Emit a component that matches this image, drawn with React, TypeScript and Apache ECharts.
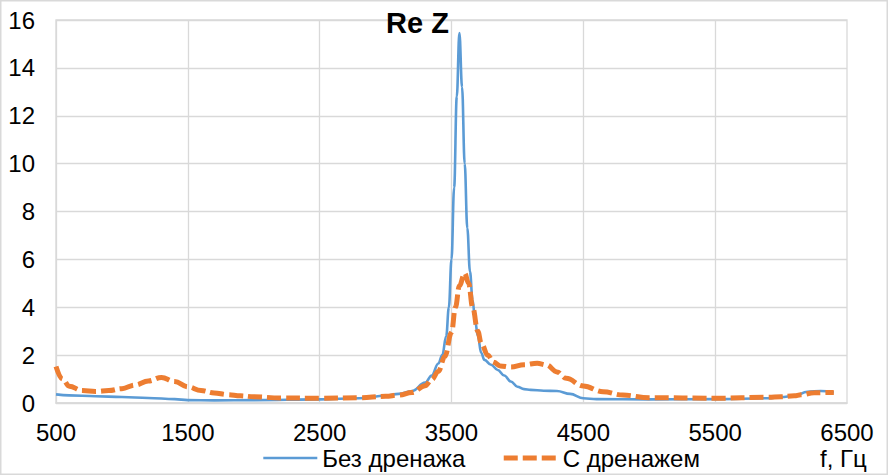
import React, { useEffect, useRef } from "react";
import * as echarts from "echarts";

const xTicks = [500, 1500, 2500, 3500, 4500, 5500, 6500];
const yTicks = [0, 2, 4, 6, 8, 10, 12, 14, 16];

const legendNames = ["Без дренажа", "С дренажем"];
const chartTitle = "Re Z";
const xAxisTitle = "f, Гц";

const freqNoDrain = [
  500, 600, 800, 1000, 1200, 1400, 1500, 1700, 2000, 2500, 2800, 3000, 3100, 3200,
  3300, 3350, 3400, 3430, 3460, 3480, 3500, 3520, 3540, 3560, 3580, 3600, 3620,
  3640, 3660, 3680, 3700, 3725, 3750, 3800, 3850, 3900, 3950, 4000, 4050, 4100,
  4200, 4300, 4400, 4500, 4600, 5000, 5500, 5900, 6000, 6100, 6200, 6300, 6400,
];
const valNoDrain = [
  0.36, 0.32, 0.28, 0.25, 0.21, 0.16, 0.12, 0.11, 0.12, 0.15, 0.2, 0.3, 0.38, 0.5,
  0.85, 1.15, 1.65, 2.0, 2.8, 4.0, 6.0, 9.0, 12.8, 15.45, 13.2, 10.0, 7.3,
  5.5, 4.3, 3.4, 2.8, 2.1, 1.8, 1.6, 1.38, 1.15, 0.9, 0.68, 0.58, 0.55,
  0.51, 0.5, 0.38, 0.2, 0.16, 0.15, 0.16, 0.2, 0.25, 0.3, 0.47, 0.5, 0.44,
];

const freqDrain = [
  500, 550, 600, 700, 800, 900, 1000, 1100, 1200, 1300, 1400, 1500, 1600, 1700,
  1800, 1900, 2000, 2200, 2500, 2800, 3000, 3100, 3200, 3300, 3350, 3400, 3450,
  3500, 3530, 3560, 3600, 3630, 3660, 3700, 3725, 3775, 3820, 3870, 3950, 4050,
  4150, 4220, 4300, 4370, 4500, 4650, 4800, 5000, 5500, 5900, 6000, 6100, 6150,
  6250, 6400,
];
const valDrain = [
  1.52, 1.0, 0.7, 0.52, 0.48, 0.52, 0.6, 0.75, 0.92, 1.07, 0.9, 0.68, 0.52, 0.42,
  0.35, 0.3, 0.26, 0.21, 0.2, 0.22, 0.28, 0.33, 0.44, 0.72, 0.98, 1.32, 1.95,
  2.95, 4.0, 4.9, 5.42, 5.0, 4.0, 3.0, 2.5, 2.0, 1.7, 1.55, 1.5, 1.6,
  1.66, 1.59, 1.3, 1.03, 0.71, 0.47, 0.33, 0.22, 0.2, 0.24, 0.26, 0.3, 0.34,
  0.43, 0.44,
];

const FONT = "Liberation Sans, Arial, sans-serif";
const BLUE = "#5B9BD5";
const ORANGE = "#ED7D31";
const FS = 24;

export default function App() {
  const ref = useRef<HTMLDivElement>(null);
  useEffect(() => {
    document.body.style.margin = "0";
    const chart = echarts.init(ref.current!, null, { renderer: "svg" });
    const noDrain = freqNoDrain.map((f, i) => [f, valNoDrain[i]]);
    const drain = freqDrain.map((f, i) => [f, valDrain[i]]);
    const blueLine = { color: BLUE, width: 2.6, type: "solid" };
    const orangeLine = { color: ORANGE, width: 5, type: [14, 5], cap: "butt" };
    chart.setOption({
      animation: false,
      backgroundColor: "#ffffff",
      textStyle: { fontFamily: FONT },
      grid: {
        left: 56,
        right: 41,
        top: 20,
        bottom: 72,
        show: true,
        borderColor: "#D9D9D9",
        borderWidth: 1.3,
      },
      graphic: [
        {
          type: "rect",
          shape: { x: 0.75, y: 0.75, width: 886.5, height: 473.5 },
          style: { fill: "none", stroke: "#D9D9D9", lineWidth: 1.5 },
          silent: true,
          z: -1,
        },
        {
          type: "text",
          x: 386,
          y: 23,
          style: {
            text: chartTitle,
            font: `bold 29px ${FONT}`,
            fill: "#000",
            align: "left",
            verticalAlign: "middle",
          },
          z: 10,
        },
        {
          type: "text",
          x: 820,
          y: 458,
          style: {
            text: xAxisTitle,
            font: `${FS}px ${FONT}`,
            fill: "#000",
            align: "left",
            verticalAlign: "middle",
          },
        },
      ],
      legend: {
        left: 262,
        top: 446,
        padding: 0,
        itemWidth: 54,
        itemHeight: 14,
        itemGap: 36,
        itemStyle: { opacity: 0 },
        textStyle: { fontSize: FS, color: "#000", fontFamily: FONT },
        data: [
          { name: legendNames[0], lineStyle: blueLine },
          { name: legendNames[1], lineStyle: orangeLine },
        ],
      },
      xAxis: {
        type: "value",
        min: xTicks[0],
        max: xTicks[xTicks.length - 1],
        interval: 1000,
        axisLine: { show: true, lineStyle: { color: "#D9D9D9", width: 1.5 } },
        axisTick: { show: false },
        axisLabel: {
          fontSize: FS,
          color: "#000",
          margin: 17,
          fontFamily: FONT,
          formatter: (v: number) => String(v),
        },
        splitLine: { show: true, showMaxLine: false, lineStyle: { color: "#D9D9D9", width: 1.3 } },
      },
      yAxis: {
        type: "value",
        min: yTicks[0],
        max: yTicks[yTicks.length - 1],
        interval: 2,
        axisLine: { show: false },
        axisTick: { show: false },
        axisLabel: { fontSize: FS, color: "#000", margin: 21, fontFamily: FONT },
        splitLine: { show: true, lineStyle: { color: "#D9D9D9", width: 1.3 } },
      },
      series: [
        {
          name: legendNames[0],
          type: "line",
          data: noDrain,
          symbol: "none",
          smooth: 0.4,
          smoothMonotone: "x",
          lineStyle: blueLine,
          itemStyle: { color: BLUE },
          z: 2,
        },
        {
          name: legendNames[1],
          type: "line",
          data: drain,
          symbol: "none",
          smooth: 0.4,
          smoothMonotone: "x",
          lineStyle: orangeLine,
          itemStyle: { color: ORANGE },
          z: 3,
        },
      ],
    });
    return () => chart.dispose();
  }, []);
  return <div ref={ref} style={{ width: 888, height: 475 }} />;
}
